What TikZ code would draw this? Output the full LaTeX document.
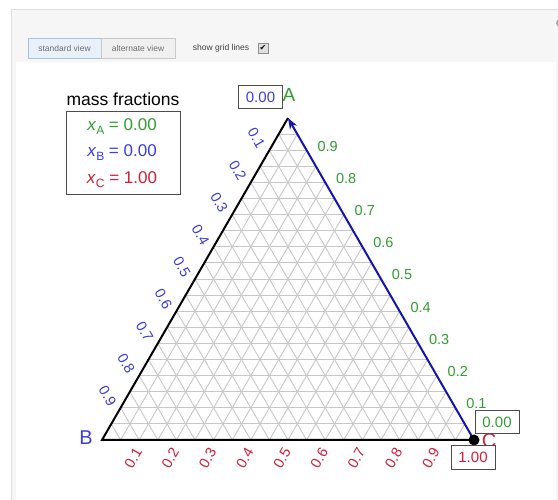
\documentclass[tikz,border=0pt]{standalone}
\usepackage{fontspec}
\setmainfont{Liberation Sans}
\newfontfamily\symfont{DejaVu Sans}
\usetikzlibrary{calc,arrows.meta}
\definecolor{cgreen}{RGB}{50,158,50}
\definecolor{cblue}{RGB}{60,60,225}
\definecolor{cred}{RGB}{210,30,55}
\definecolor{arrowblue}{RGB}{20,20,175}
\definecolor{gridgray}{RGB}{200,200,200}
\definecolor{panelgray}{RGB}{246,246,246}
\definecolor{bordergray}{RGB}{222,222,222}
\definecolor{btnblue}{RGB}{232,241,250}
\definecolor{btnblueborder}{RGB}{165,195,225}
\definecolor{btngray}{RGB}{240,240,240}
\definecolor{btngrayborder}{RGB}{200,200,200}
\definecolor{btntext}{RGB}{110,110,110}
\tikzset{
  gridline/.style={draw=gridgray, line width=0.9pt},
  edgeline/.style={draw=black, line width=2pt},
  arrowline/.style={draw=arrowblue, line width=2pt, -{Stealth[length=11pt,width=8pt]}},
  ticklbl/.style={inner sep=0pt, font=\fontsize{14.5}{16}\selectfont},
  valbox/.style={draw=black!70, line width=1pt, fill=white, inner sep=0pt, minimum width=44pt, minimum height=23pt, font=\fontsize{15}{17}\selectfont},
  legendtxt/.style={inner sep=0pt, font=\fontsize{17}{19}\selectfont},
  btn/.style={inner sep=0pt, font=\fontsize{8.5}{10}\selectfont, text=btntext}
}
\newcommand{\xsub}[1]{\textit{x}\raisebox{-0.45ex}{\fontsize{12}{12}\selectfont #1}}
\begin{document}
\begin{tikzpicture}[x=1pt,y=-1pt]
\useasboundingbox (0,0) rectangle (558,500);
\fill[white] (0,0) rectangle (558,500);
% panel
\filldraw[fill=panelgray, draw=bordergray] (11,9) rectangle (562,506);
\fill[white] (16,62) rectangle (556,506);
\fill[gray!70] (560,23) circle (4);
% buttons
\node[btn, draw=btnblueborder, fill=btnblue, minimum width=73pt, minimum height=20pt] (sv) at (64.5,48) {standard view};
\node[btn, draw=btngrayborder, fill=btngray, minimum width=74pt, minimum height=20pt] (av) at (138,48) {alternate view};
\node[btn, text=black!75] (sgl) at (221,48) {show grid lines};
\node[draw=black!45, fill=black!12, minimum width=10pt, minimum height=10pt, inner sep=0pt, font=\symfont\fontsize{8}{8}\selectfont] (cb) at (263,48) {✔};
% vertices
\coordinate (A) at (288,118);
\coordinate (B) at (102,440);
\coordinate (C) at (474,440);
% grid
\foreach \t in {0.05,0.1,0.15,0.2,0.25,0.3,0.35,0.4,0.45,0.5,0.55,0.6,0.65,0.7,0.75,0.8,0.85,0.9,0.95}{
  \draw[gridline] ($(B)!\t!(A)$) -- ($(C)!\t!(A)$);
  \draw[gridline] ($(A)!\t!(B)$) -- ($(C)!\t!(B)$);
  \draw[gridline] ($(A)!\t!(C)$) -- ($(B)!\t!(C)$);
}
% edges
\draw[edgeline] (A) -- (B) -- (C);
\draw[arrowline] (C) -- (A);
% tick labels
\foreach \i in {1,...,9}{
  \node[ticklbl, text=cblue, rotate=-60] (bl\i) at ($(A)!0.\i!(B)+(-13,-12)$) {0.\i};
  \node[ticklbl, text=cgreen] (gl\i) at ($(C)!0.\i!(A)+(21,-4)$) {0.\i};
  \node[ticklbl, text=cred, rotate=60] (rl\i) at ($(B)!0.\i!(C)+(-6,18)$) {0.\i};
}
% vertex labels
\node[inner sep=0pt, text=cgreen, font=\fontsize{19}{20}\selectfont] (la) at (289,95) {A};
\node[inner sep=0pt, text=cblue, font=\fontsize{20}{22}\selectfont] (lb) at (86,438) {B};
\node[inner sep=0pt, text=cred, font=\fontsize{20}{22}\selectfont] (lc) at (489,441) {C};
\fill[black] (C) circle (5.5);
% value boxes
\node[valbox, text=cblue] (va) at (260.5,97.5) {0.00};
\node[valbox, text=cgreen] (vc1) at (497,422.5) {0.00};
\node[valbox, text=cred] (vc2) at (473,457.5) {1.00};
% legend
\node[inner sep=0pt, font=\fontsize{17.5}{20}\selectfont] (mf) at (123,99) {mass fractions};
\node[draw=black!70, line width=1pt, minimum width=114pt, minimum height=83pt, inner sep=0pt] (leg) at (123,153.5) {};
\node[legendtxt, text=cgreen] (xa) at (122,127) {\xsub{A} = 0.00};
\node[legendtxt, text=cblue] (xb) at (122,153) {\xsub{B} = 0.00};
\node[legendtxt, text=cred] (xc) at (122,180) {\xsub{C} = 1.00};
\end{tikzpicture}
\end{document}
